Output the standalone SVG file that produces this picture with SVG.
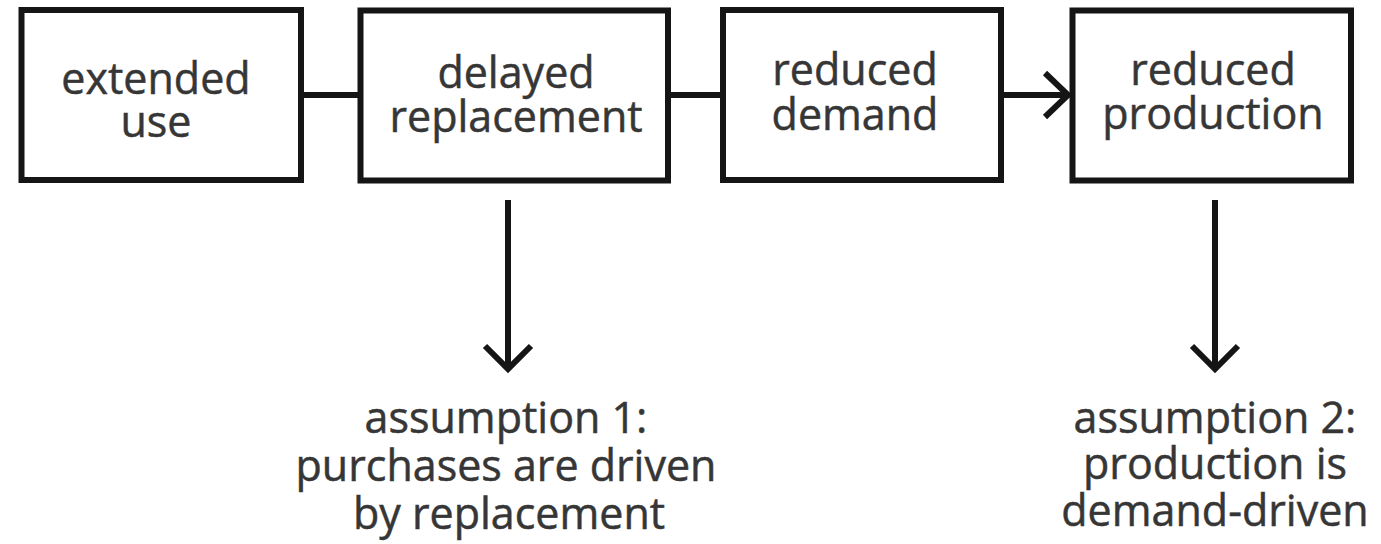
<svg xmlns="http://www.w3.org/2000/svg" width="1381" height="544" viewBox="0 0 1381 544">
<style>
.box{fill:#fff;stroke:#151515;stroke-width:6}
.ln{fill:none;stroke:#151515;stroke-width:6}
.hd{fill:none;stroke:#151515;stroke-width:6;stroke-linejoin:miter;stroke-linecap:butt}
text{font-family:"Open Sans","Noto Sans",sans-serif;font-size:43px;fill:#363636;stroke:#363636;stroke-width:0.5;text-anchor:middle}
</style>
<rect width="1381" height="544" fill="#fff"/>
<g id="connectors">
<line class="ln" x1="301" y1="95" x2="360" y2="95"/>
<line class="ln" x1="668" y1="95" x2="723" y2="95"/>
<line class="ln" x1="1001" y1="95" x2="1067" y2="95"/>
<polyline class="hd" points="1045,73 1068,95 1045,117"/>
<line class="ln" x1="508" y1="200" x2="508" y2="368"/>
<polyline class="hd" points="485,346 508,369 531,346"/>
<line class="ln" x1="1215" y1="200" x2="1215" y2="368"/>
<polyline class="hd" points="1192,346 1215,369 1238,346"/>
</g>
<g id="n1">
<rect class="box" x="21.5" y="10" width="279.5" height="170"/>
<text x="156" y="94"><tspan x="156">extended</tspan><tspan x="156" dy="43">use</tspan></text>
</g>
<g id="n2">
<rect class="box" x="360.5" y="10.5" width="307.5" height="170"/>
<text x="516" y="88"><tspan x="516">delayed</tspan><tspan x="516" dy="44">replacement</tspan></text>
</g>
<g id="n3">
<rect class="box" x="723" y="10" width="278" height="170"/>
<text x="855" y="85"><tspan x="855">reduced</tspan><tspan x="855" dy="45">demand</tspan></text>
</g>
<g id="n4">
<rect class="box" x="1072.5" y="10.5" width="278.5" height="170"/>
<text x="1213" y="85"><tspan x="1213">reduced</tspan><tspan x="1213" dy="44">production</tspan></text>
</g>
<g id="a1">
<text x="506" y="433"><tspan x="506">assumption 1:</tspan><tspan x="506" dy="48">purchases are driven</tspan><tspan x="509" dy="48">by replacement</tspan></text>
</g>
<g id="a2">
<text x="1215" y="433"><tspan x="1215">assumption 2:</tspan><tspan x="1215" dy="46">production is</tspan><tspan x="1215" dy="47">demand-driven</tspan></text>
</g>
</svg>
